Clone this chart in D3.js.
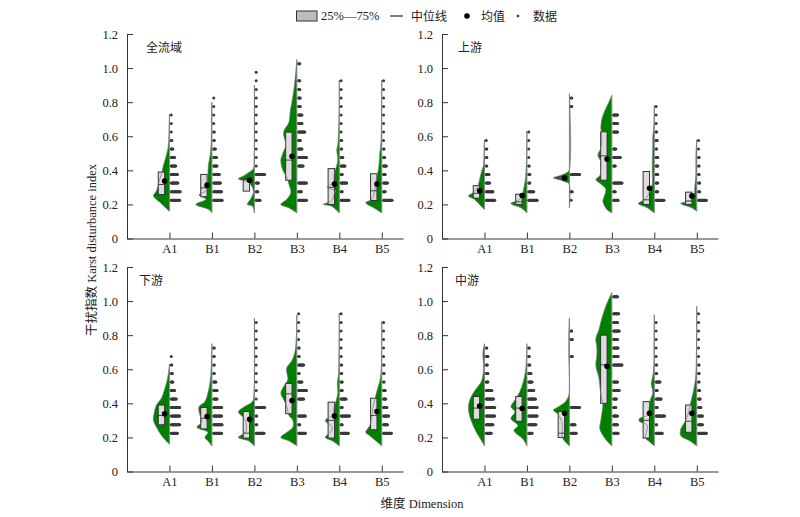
<!DOCTYPE html>
<html>
<head>
<meta charset="utf-8">
<script src="https://cdn.jsdelivr.net/npm/d3@7"></script>
<style>
body { margin: 0; background: #fff; }
text { fill: #222; }
</style>
</head>
<body>
<svg id="chart" width="800" height="517"></svg>
<script>
// order of panels: top left, top right, bottom left, bottom right
var panelNames = ["全流域", "上游", "下游", "中游"];
var categories = ["A1", "B1", "B2", "B3", "B4", "B5"];
var yTicks = [0, 0.2, 0.4, 0.6, 0.8, 1.0, 1.2];

// box values, one row per panel
var q1Values = [
  [0.258, 0.245, 0.278, 0.342, 0.20, 0.223],
  [0.237, 0.20, 0.35, 0.342, 0.20, 0.20],
  [0.274, 0.25, 0.196, 0.339, 0.196, 0.245],
  [0.307, 0.295, 0.20, 0.40, 0.196, 0.23]
];
var medianValues = [
  [0.317, 0.297, 0.345, 0.46, 0.30, 0.28],
  [0.265, 0.215, 0.355, 0.485, 0.227, 0.22],
  [0.329, 0.313, 0.225, 0.456, 0.30, 0.329],
  [0.372, 0.372, 0.225, 0.626, 0.30, 0.295]
];
var q3Values = [
  [0.39, 0.376, 0.348, 0.624, 0.41, 0.38],
  [0.31, 0.26, 0.36, 0.626, 0.393, 0.272],
  [0.39, 0.376, 0.352, 0.517, 0.407, 0.43],
  [0.44, 0.44, 0.352, 0.80, 0.41, 0.39]
];
var meanValues = [
  [0.337, 0.313, 0.342, 0.483, 0.32, 0.32],
  [0.28, 0.252, 0.355, 0.466, 0.295, 0.25],
  [0.339, 0.323, 0.307, 0.417, 0.325, 0.352],
  [0.384, 0.37, 0.342, 0.618, 0.342, 0.342]
];

// data rows: counts per bin, first bin is binStart, then every binStep
var binStart = 0.225;
var binStep = 0.05;
var binCounts = [
  [
    [16, 17, 13, 12, 9, 7, 4, 2, 1, 1, 1],
    [16, 15, 13, 11, 7, 6, 4, 2, 2, 1, 1, 1, 1],
    [8, 4, 5, 16, 1, 1, 1, 1, 1, 1, 1, 1, 1, 1, 1, 1],
    [15, 6, 15, 0, 9, 15, 7, 4, 12, 7, 7, 4, 4, 3, 3, 0, 3],
    [15, 3, 11, 3, 8, 4, 2, 2, 1, 1, 1, 1, 1, 1, 1],
    [16, 4, 8, 4, 6, 3, 2, 1, 1, 1, 1, 1, 1, 1, 1]
  ],
  [
    [16, 13, 7, 6, 2, 2, 2, 1],
    [16, 10, 3, 3, 2, 1, 1, 1, 1],
    [1, 3, 0, 16, 0, 0, 0, 0, 0, 0, 0, 2, 2],
    [9, 4, 16, 0, 4, 13, 5, 0, 8, 8, 8],
    [15, 4, 4, 4, 4, 4, 2, 3, 2, 1, 1, 1],
    [15, 3, 3, 2, 2, 2, 1, 1]
  ],
  [
    [12, 16, 16, 16, 10, 7, 4, 3, 2, 1],
    [15, 16, 15, 15, 7, 7, 5, 2, 2, 2, 2],
    [15, 2, 2, 16, 1, 1, 1, 1, 1, 1, 1, 1, 1, 1],
    [13, 3, 13, 0, 10, 15, 7, 2, 10, 2, 2, 1, 1, 1, 1],
    [14, 3, 16, 3, 10, 3, 3, 2, 2, 1, 1, 1, 1, 1, 1],
    [15, 8, 10, 7, 5, 4, 2, 2, 2, 1, 1, 1, 1, 1]
  ],
  [
    [10, 13, 16, 16, 14, 11, 4, 4, 3, 4, 2],
    [7, 14, 16, 16, 13, 10, 7, 5, 3, 2, 2],
    [10, 8, 0, 16, 0, 0, 0, 0, 0, 3, 0, 3, 2],
    [9, 8, 8, 5, 6, 11, 8, 0, 16, 9, 9, 8, 11, 8, 10, 0, 8],
    [12, 2, 16, 3, 10, 3, 8, 2, 2, 1, 1, 1, 1, 1],
    [15, 8, 8, 5, 4, 3, 2, 2, 2, 1, 1, 1, 1, 1, 1]
  ]
];

// violin outlines as [value, density], density 16 is the widest
var densityCurves = [
  [
    [[0.16,0],[0.18,4],[0.21,9],[0.25,16],[0.28,13],[0.33,10.5],[0.38,8],[0.43,6],[0.48,3.5],[0.53,1.5],[0.58,0.7],[0.65,0.4],[0.73,0]],
    [[0.15,0],[0.17,3],[0.2,16],[0.23,6],[0.255,13],[0.28,6],[0.3,5],[0.38,4],[0.43,3.5],[0.5,1.5],[0.6,0.6],[0.78,0.3],[0.8,0]],
    [[0.15,0],[0.19,2],[0.2,7],[0.23,4],[0.27,1],[0.3,2],[0.33,6],[0.35,16],[0.37,10],[0.39,5],[0.41,1],[0.45,0.3],[0.9,0]],
    [[0.15,0],[0.18,8],[0.2,16],[0.23,10],[0.27,6],[0.32,8],[0.36,10],[0.4,14],[0.46,16],[0.5,14],[0.55,11],[0.6,13],[0.63,13],[0.68,8],[0.75,6.5],[0.85,3.5],[0.95,1.5],[1.05,0]],
    [[0.15,0],[0.19,8],[0.2,16],[0.22,8],[0.26,5],[0.28,4],[0.3,12],[0.33,6],[0.38,5],[0.42,3],[0.46,1.5],[0.52,2.5],[0.55,1.5],[0.6,1],[0.7,0.3],[0.93,0]],
    [[0.15,0],[0.18,8],[0.21,16],[0.23,10],[0.28,7],[0.33,6],[0.4,3.5],[0.45,2.5],[0.5,2],[0.55,1],[0.65,0.4],[0.93,0]]
  ],
  [
    [[0.17,0],[0.2,5],[0.23,10],[0.25,16],[0.27,11],[0.3,7],[0.33,5.5],[0.38,3.5],[0.43,1],[0.5,0.5],[0.58,0]],
    [[0.15,0],[0.18,6],[0.205,16],[0.23,7],[0.26,4.5],[0.3,3],[0.35,1.5],[0.45,0.5],[0.63,0]],
    [[0.18,0],[0.32,0.2],[0.33,3],[0.345,10],[0.355,16],[0.37,9],[0.385,3],[0.4,0.3],[0.85,0]],
    [[0.15,0],[0.17,5],[0.2,8],[0.22,9],[0.25,7.5],[0.29,6],[0.32,11],[0.345,16],[0.37,12],[0.41,11],[0.45,11],[0.49,14],[0.53,11],[0.6,10],[0.65,11],[0.7,10],[0.75,7],[0.8,3],[0.84,0]],
    [[0.15,0],[0.18,7],[0.205,16],[0.23,9],[0.27,5],[0.32,2],[0.38,2],[0.45,2],[0.55,1.5],[0.6,1.5],[0.65,0.5],[0.78,0]],
    [[0.16,0],[0.18,5],[0.205,16],[0.225,6],[0.26,2.5],[0.3,2],[0.37,1],[0.5,0.8],[0.58,0]]
  ],
  [
    [[0.16,0],[0.19,5],[0.22,9],[0.26,13],[0.3,16],[0.35,15],[0.39,13],[0.43,8],[0.48,5],[0.53,2.5],[0.58,1],[0.63,0]],
    [[0.15,0],[0.18,4],[0.2,7],[0.23,4],[0.26,15],[0.29,10],[0.33,12],[0.38,13],[0.41,7],[0.46,4],[0.52,2],[0.6,0.8],[0.75,0]],
    [[0.15,0],[0.18,6],[0.2,16],[0.23,9],[0.27,8],[0.31,10],[0.35,16],[0.38,10],[0.41,2],[0.45,0.5],[0.9,0]],
    [[0.15,0],[0.18,8],[0.2,16],[0.23,10],[0.26,4],[0.3,4],[0.33,8],[0.38,10],[0.42,13],[0.46,16],[0.5,13],[0.54,9],[0.58,10],[0.61,10],[0.65,5],[0.7,2],[0.78,0.6],[0.92,0]],
    [[0.15,0],[0.18,7],[0.2,14],[0.23,9],[0.26,7],[0.3,14],[0.33,7],[0.38,5],[0.42,3],[0.46,1.5],[0.52,2],[0.56,1],[0.65,0.4],[0.93,0]],
    [[0.15,0],[0.18,6],[0.21,12],[0.23,16],[0.27,12],[0.32,10],[0.37,9],[0.42,7],[0.47,5],[0.53,2],[0.6,0.6],[0.88,0]]
  ],
  [
    [[0.15,0],[0.19,4],[0.24,9],[0.28,12],[0.33,15],[0.38,16],[0.43,14],[0.48,9],[0.53,3],[0.6,1],[0.7,1.5],[0.75,0]],
    [[0.15,0],[0.19,4],[0.24,13],[0.27,9],[0.31,16],[0.35,12],[0.38,16],[0.42,12],[0.47,7],[0.53,3.5],[0.6,1.2],[0.75,0]],
    [[0.15,0],[0.18,5],[0.2,7],[0.25,7],[0.3,8],[0.34,12],[0.36,16],[0.38,11],[0.41,4],[0.45,0.5],[0.6,0.2],[0.68,0.6],[0.75,0.6],[0.8,0.6],[0.9,0]],
    [[0.15,0],[0.18,5],[0.25,12],[0.3,11],[0.4,9],[0.45,11],[0.55,13],[0.62,16],[0.68,15],[0.73,15],[0.78,16],[0.83,13],[0.9,10],[0.97,6],[1.05,0]],
    [[0.15,0],[0.18,6],[0.195,9],[0.23,8],[0.27,7],[0.295,15],[0.31,15],[0.33,7],[0.38,5],[0.42,4],[0.46,1.5],[0.52,3],[0.56,1.5],[0.62,0.5],[0.7,0.3],[0.92,0]],
    [[0.15,0],[0.18,7],[0.21,16],[0.25,16],[0.28,13],[0.33,9],[0.38,7],[0.43,5],[0.48,3],[0.55,1.2],[0.65,0.5],[0.97,0]]
  ]
];

var svg = d3.select("#chart");
var serif = "'Liberation Serif', serif";
var cjk = "'Noto Sans CJK SC', sans-serif";

var panelLeft = [127, 442, 127, 442];
var panelTop = [34, 34, 267, 267];
var panelWidth = 276;
var panelHeight = 204.5;
var titleX = [19, 16, 12, 13];

var x = d3.scaleLinear().domain([0, 6.5]).range([0, panelWidth]);
var y = d3.scaleLinear().domain([0, 1.2]).range([panelHeight, 0]);
var w = d3.scaleLinear().domain([0, 16]).range([0, 16]);
var dotX = d3.scaleLinear().domain([0, 16]).range([1.8, 10.8]);

var violin = d3.area()
  .y(function(d) { return y(d[0]); })
  .x0(0)
  .x1(function(d) { return -w(d[1]); })
  .curve(d3.curveCatmullRom.alpha(0.5));

panelNames.forEach(function(name, p) {
  var g = svg.append("g")
    .attr("transform", "translate(" + panelLeft[p] + "," + panelTop[p] + ")");

  categories.forEach(function(cat, c) {
    var col = g.append("g").attr("transform", "translate(" + x(c + 1) + ",0)");
    var curve = densityCurves[p][c];

    col.append("path")
      .attr("d", violin(curve))
      .attr("fill", "#008000")
      .attr("stroke", "none");

    // line along the tick, it shows where the density is thin
    col.append("line")
      .attr("y1", y(curve[0][0]))
      .attr("y2", y(curve[curve.length - 1][0]))
      .attr("stroke", "#888")
      .attr("stroke-width", 1);

    col.append("rect")
      .attr("x", -11.2)
      .attr("width", 6.4)
      .attr("y", y(q3Values[p][c]))
      .attr("height", y(q1Values[p][c]) - y(q3Values[p][c]))
      .attr("fill", "#dedede")
      .attr("stroke", "#333")
      .attr("stroke-width", 1);

    // outline of the violin on top of the box
    col.append("path")
      .attr("d", violin.lineX1()(curve))
      .attr("fill", "none")
      .attr("stroke", "#777")
      .attr("stroke-width", 0.7);

    col.append("line")
      .attr("x1", -11.2)
      .attr("x2", -4.8)
      .attr("y1", y(medianValues[p][c]))
      .attr("y2", y(medianValues[p][c]))
      .attr("stroke", "#333")
      .attr("stroke-width", 0.9);

    col.append("circle")
      .attr("cx", -4.8)
      .attr("cy", y(meanValues[p][c]))
      .attr("r", 2.8)
      .attr("fill", "#000");

    binCounts[p][c].forEach(function(count, b) {
      d3.range(count).forEach(function(i) {
        col.append("circle")
          .attr("cx", dotX(i))
          .attr("cy", y(binStart + b * binStep))
          .attr("r", 1.5)
          .attr("fill", "#3a3a3a");
      });
    });
  });

  var xAxis = d3.axisBottom(x)
    .tickValues(d3.range(1, 7))
    .tickFormat(function(d) { return categories[d - 1]; })
    .tickSize(-6)
    .tickSizeOuter(0)
    .tickPadding(6);
  var yAxis = d3.axisLeft(y)
    .tickValues(yTicks)
    .tickFormat(function(d) { return d === 0 ? "0" : d.toFixed(1); })
    .tickSize(-6)
    .tickSizeOuter(0)
    .tickPadding(9);

  var gx = g.append("g").attr("transform", "translate(0," + panelHeight + ")").call(xAxis);
  var gy = g.append("g").call(yAxis);
  [gx, gy].forEach(function(a) {
    a.selectAll("text").attr("font-family", serif).attr("font-size", 12.5).attr("fill", "#222");
    a.selectAll("path,line").attr("stroke", "#333").attr("stroke-width", 1);
  });

  g.append("text")
    .attr("x", titleX[p])
    .attr("y", 17.5)
    .attr("font-family", cjk)
    .attr("font-size", 12)
    .text(name);
});

// axis titles
svg.append("text")
  .attr("transform", "translate(96,250) rotate(-90)")
  .attr("text-anchor", "middle")
  .attr("font-family", serif)
  .attr("font-size", 12.5)
  .html("<tspan font-family=\"" + cjk.replace(/'/g, "") + "\">干扰指数</tspan> Karst disturbance index");
svg.append("text")
  .attr("x", 422)
  .attr("y", 508)
  .attr("text-anchor", "middle")
  .attr("font-family", serif)
  .attr("font-size", 12.5)
  .html("<tspan font-family=\"" + cjk.replace(/'/g, "") + "\">维度</tspan> Dimension");

// legend
var legend = svg.append("g");
legend.append("rect").attr("x", 296.5).attr("y", 11).attr("width", 20.5).attr("height", 10)
  .attr("fill", "#bdbdbd").attr("stroke", "#333").attr("stroke-width", 1);
legend.append("text").attr("x", 321).attr("y", 20).attr("font-family", serif).attr("font-size", 12.5).text("25%—75%");
legend.append("line").attr("x1", 390).attr("x2", 403).attr("y1", 16).attr("y2", 16)
  .attr("stroke", "#222").attr("stroke-width", 1.2);
legend.append("text").attr("x", 411).attr("y", 20.5).attr("font-family", cjk).attr("font-size", 12).text("中位线");
legend.append("circle").attr("cx", 467).attr("cy", 16).attr("r", 2.8).attr("fill", "#000");
legend.append("text").attr("x", 481).attr("y", 20.5).attr("font-family", cjk).attr("font-size", 12).text("均值");
legend.append("circle").attr("cx", 518).attr("cy", 16).attr("r", 1.3).attr("fill", "#333");
legend.append("text").attr("x", 533).attr("y", 20.5).attr("font-family", cjk).attr("font-size", 12).text("数据");
</script>
</body>
</html>
